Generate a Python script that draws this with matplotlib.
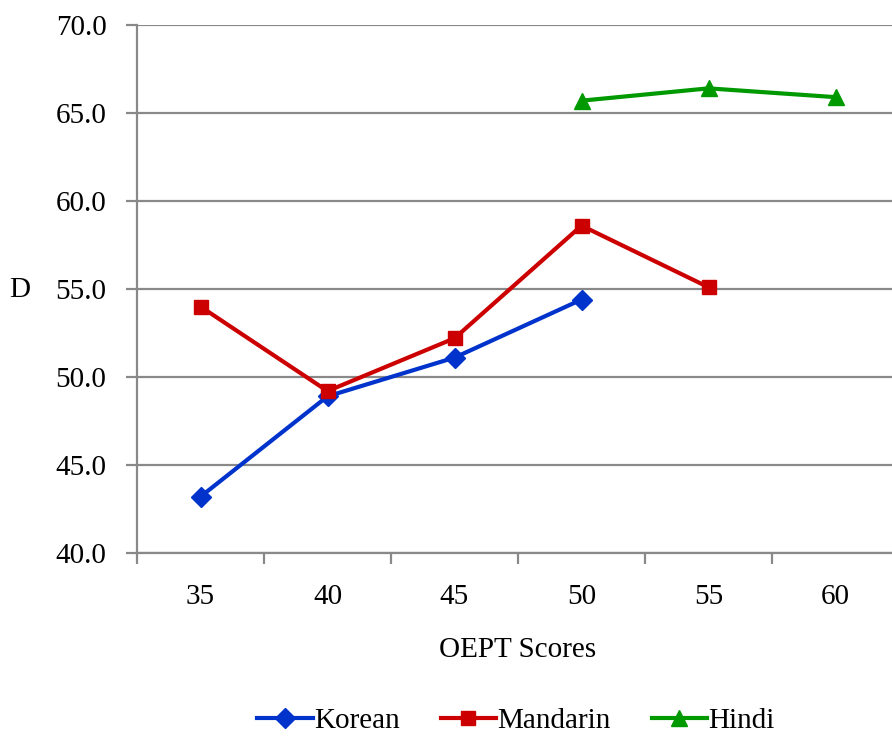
import matplotlib
matplotlib.use('Agg')
import matplotlib.pyplot as plt

scores = ['35', '40', '45', '50', '55', '60']
korean = [43.2, 48.9, 51.1, 54.4]
mandarin = [54.0, 49.2, 52.2, 58.6, 55.1]
hindi = [65.7, 66.4, 65.9]
hindi_start = 3

plt.rcParams['font.family'] = ['Liberation Serif', 'DejaVu Serif']

fig = plt.figure(figsize=(8.92, 7.36), dpi=100)
ax = fig.add_axes([137 / 892, 183 / 736, 762 / 892, 528 / 736])

grid_col = '#898989'
ax.plot(range(len(korean)), korean, color='#0033cc', lw=3, marker='D', ms=10,
        label='Korean', zorder=3)
ax.plot(range(len(mandarin)), mandarin, color='#cc0000', lw=3, marker='s', ms=10.5,
        label='Mandarin', zorder=3)
ax.plot(range(hindi_start, hindi_start + len(hindi)), hindi, color='#009900', lw=3,
        marker='^', ms=11, label='Hindi', zorder=3)

ax.set_ylim(40, 70)
ax.set_yticks(range(40, 71, 5))
ax.set_yticklabels([f'{v:.1f}' for v in range(40, 71, 5)])
ax.yaxis.grid(True, color=grid_col, lw=1.6)
ax.set_axisbelow(True)

ax.set_xlim(-0.5, len(scores) - 0.5)
ax.set_xticks([i - 0.5 for i in range(len(scores) + 1)])
ax.set_xticklabels([])
ax.set_xticks(range(len(scores)), minor=True)
ax.set_xticklabels(scores, minor=True)
ax.tick_params(axis='x', which='minor', length=0, pad=22, labelsize=21)
ax.tick_params(axis='x', which='major', length=8, width=1.6, color=grid_col)
ax.tick_params(axis='y', length=8, width=1.6, color=grid_col, labelsize=21, pad=14)

for side in ['top', 'right']:
    ax.spines[side].set_visible(False)
for side in ['left', 'bottom']:
    ax.spines[side].set_color(grid_col)
    ax.spines[side].set_linewidth(1.6)

fig.text(20 / 892, 1 - 290 / 736, 'D', fontsize=21, ha='center', va='center')
fig.text(518 / 892, 1 - 650 / 736, 'OEPT Scores', fontsize=21, ha='center', va='center')

fig.legend(loc='center', bbox_to_anchor=(516 / 892, 1 - 721 / 736), ncol=3, frameon=False,
           fontsize=21, handlelength=1.9, handletextpad=0.05, columnspacing=1.4,
           borderpad=0)

fig.savefig('out.png', dpi=100)
